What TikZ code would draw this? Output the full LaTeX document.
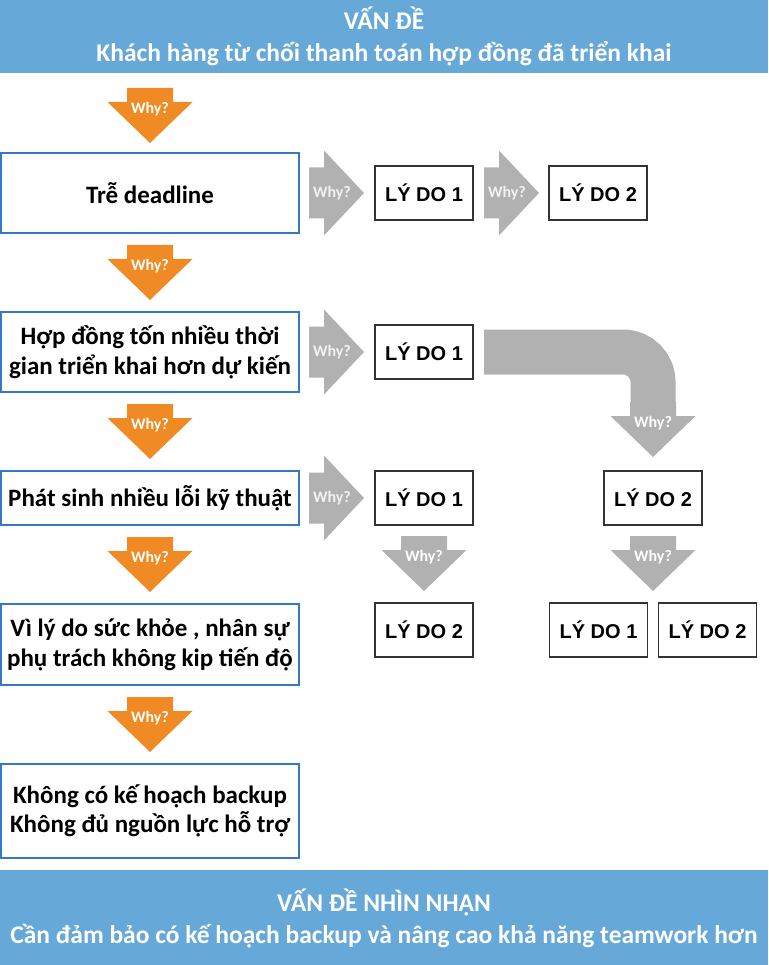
\documentclass[tikz,border=0pt]{standalone}
\usepackage{fontspec}
\setmainfont{Carlito}
\newfontfamily\reasonfont{Liberation Sans}
\usepackage{tikz}
\usetikzlibrary{positioning, calc}
\definecolor{bandBlue}{HTML}{66A8D7}
\definecolor{boxBlue}{HTML}{3579C6}
\definecolor{whyOrange}{HTML}{F08A24}
\definecolor{whyGray}{HTML}{B1B1B1}
\tikzstyle{cause} = [rectangle, minimum width=298pt, minimum height=80pt, outer sep=0pt, align=center, draw=boxBlue, line width=1.6pt, font=\fontsize{25}{30}\selectfont\bfseries]
\tikzstyle{reason} = [rectangle, minimum width=98pt, minimum height=54pt, outer sep=0pt, draw=black!80, line width=1.5pt, font=\reasonfont\fontsize{20}{24}\selectfont\bfseries]
\tikzstyle{banner} = [rectangle, fill=bandBlue, minimum width=768pt, inner sep=0pt, outer sep=0pt, text=white, align=center, font=\fontsize{25.5}{32}\selectfont\bfseries]
\newcommand\ppbb{path picture bounding box}
\tikzset{
	whyDown/.style = {rectangle, minimum width=85pt, minimum height=55pt, inner sep=0pt, outer sep=0pt,
		text=white, font=\fontsize{16}{18}\selectfont\bfseries, text height=12pt, text depth=16pt,
		path picture={\fill[#1]
			([xshift=-23pt]\ppbb.north) -- ([xshift=-23pt,yshift=-14pt]\ppbb.north)
			-- ([yshift=-14pt]\ppbb.north west) -- (\ppbb.south)
			-- ([yshift=-14pt]\ppbb.north east) -- ([xshift=23pt,yshift=-14pt]\ppbb.north)
			-- ([xshift=23pt]\ppbb.north) -- cycle;
		},% end of path picture
	}
}
\tikzset{
	whyRight/.style = {rectangle, minimum width=55pt, minimum height=85pt, inner sep=0pt, outer sep=0pt,
		text width=47pt, align=left,
		text=white!95!black, font=\fontsize{16}{18}\selectfont\bfseries,
		path picture={\fill[#1]
			([yshift=25.5pt]\ppbb.west) -- ([xshift=15pt,yshift=25.5pt]\ppbb.west)
			-- ([xshift=15pt]\ppbb.north west) -- (\ppbb.east)
			-- ([xshift=15pt]\ppbb.south west) -- ([xshift=15pt,yshift=-25.5pt]\ppbb.west)
			-- ([yshift=-25.5pt]\ppbb.west) -- cycle;
		},% end of path picture
	}
}

\begin{document}
\begin{tikzpicture}
\useasboundingbox (0,0) rectangle (768pt,-965pt);
%----------------------------------------------------------------------------
% Placement of the main chain
\node (problemTop) [banner, minimum height=73pt, anchor=north west] at (0,0) {VẤN ĐỀ\\Khách hàng từ chối thanh toán hợp đồng đã triển khai};

\node (why0) [whyDown=whyOrange, below=15pt of problemTop.south west, xshift=150pt] {Why?};
\node (deadlineBox) [cause, below=10pt of why0] {Trễ deadline};
\node (why1) [whyDown=whyOrange, below=12pt of deadlineBox] {Why?};
\node (contractBox) [cause, below=12pt of why1] {Hợp đồng tốn nhiều thời\\gian triển khai hơn dự kiến};
\node (why2) [whyDown=whyOrange, below=12pt of contractBox] {Why?};
\node (bugsBox) [cause, below=12pt of why2, minimum height=54pt] {Phát sinh nhiều lỗi kỹ thuật};
\node (why3) [whyDown=whyOrange, below=12pt of bugsBox] {Why?};
\node (healthBox) [cause, below=12pt of why3, minimum height=81pt] {Vì lý do sức khỏe , nhân sự\\phụ trách không kip tiến độ};
\node (why4) [whyDown=whyOrange, below=12pt of healthBox] {Why?};
\node (backupBox) [cause, below=12pt of why4, minimum height=94pt, font=\fontsize{25}{29}\selectfont\bfseries] {Không có kế hoạch backup\\Không đủ nguồn lực hỗ trợ};

\node (lessonBottom) [banner, minimum height=96pt, below=12pt of backupBox.south west, anchor=north west, xshift=-1pt] {VẤN ĐỀ NHÌN NHẬN\\Cần đảm bảo có kế hoạch backup và nâng cao khả năng teamwork hơn};

%----------------------------------------------------------------------------
% Reasons to the right
\node (deadlineWhy) [whyRight=whyGray, right=10pt of deadlineBox] {Why?};
\node (deadlineR1) [reason, right=11pt of deadlineWhy] {LÝ DO 1};
\node (deadlineWhyB) [whyRight=whyGray, right=11pt of deadlineR1] {Why?};
\node (deadlineR2) [reason, right=10pt of deadlineWhyB] {LÝ DO 2};

\node (contractWhy) [whyRight=whyGray, right=10pt of contractBox] {Why?};
\node (contractR1) [reason, right=11pt of contractWhy] {LÝ DO 1};

\node (bugsWhy) [whyRight=whyGray, right=10pt of bugsBox] {Why?};
\node (bugsR1) [reason, right=11pt of bugsWhy] {LÝ DO 1};
\node (bugsR2) [reason, right=131pt of bugsR1] {LÝ DO 2};
\node (bendHead) [whyDown=whyGray, above=14pt of bugsR2] {Why?};

\node (bugsR1Why) [whyDown=whyGray, below=11pt of bugsR1] {Why?};
\node (bugsR1R2) [reason, below=12pt of bugsR1Why] {LÝ DO 2};
\node (bugsR2Why) [whyDown=whyGray, below=11pt of bugsR2] {Why?};
\node (bugsR2R1) [reason, below=12pt of bugsR2Why, xshift=-54.5pt] {LÝ DO 1};
\node (bugsR2R2) [reason, right=11pt of bugsR2R1] {LÝ DO 2};

%----------------------------------------------------------------------------
% Bent arrow
\draw [whyGray, line width=45pt, rounded corners=30pt] ([xshift=11pt]contractR1.east) -| (bendHead.north);

\end{tikzpicture}
\end{document}
